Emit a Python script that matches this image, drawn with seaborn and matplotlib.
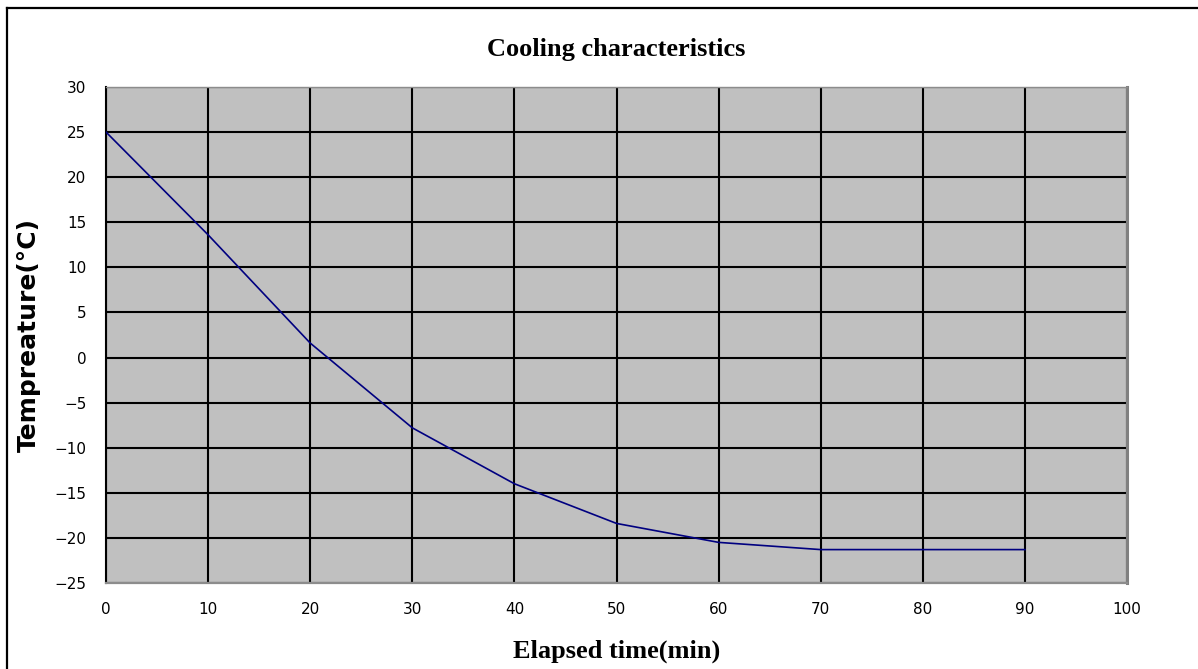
import matplotlib
matplotlib.use("Agg")
import matplotlib.pyplot as plt
import seaborn as sns
import pandas as pd
from matplotlib.lines import Line2D

# Data
elapsed_min = [0, 10, 20, 30, 40, 50, 60, 70, 80, 90]
temperature_c = [25.0, 13.6, 1.6, -7.8, -14.0, -18.4, -20.5, -21.3, -21.3, -21.3]
x_ticks = [0, 10, 20, 30, 40, 50, 60, 70, 80, 90, 100]
y_ticks = [-25, -20, -15, -10, -5, 0, 5, 10, 15, 20, 25, 30]

df = pd.DataFrame({"time": elapsed_min, "temp": temperature_c})

fig = plt.figure(figsize=(11.98, 6.69), dpi=100)
ax = fig.add_axes([0.0885, 0.1286, 0.8523, 0.7414])
ax.set_facecolor("#c0c0c0")

# Cooling curve
sns.lineplot(data=df, x="time", y="temp", ax=ax, color="#000080",
             linewidth=1.2, zorder=3)

ax.set_xlim(0, 100)
ax.set_ylim(-25, 30)
ax.set_xticks(x_ticks)
ax.set_yticks(y_ticks)
ax.tick_params(length=0, labelsize=11, pad=14)

# Black grid
ax.set_axisbelow(True)
ax.grid(True, color="black", linewidth=1.5)

# Spines
ax.spines["left"].set_color("black")
ax.spines["left"].set_linewidth(1.5)
ax.spines["top"].set_color("#8c8c8c")
ax.spines["top"].set_linewidth(1.0)
ax.spines["right"].set_color("#808080")
ax.spines["right"].set_linewidth(2.2)
ax.spines["bottom"].set_color("#8c8c8c")
ax.spines["bottom"].set_linewidth(1.6)

# Titles and labels
ax.set_title("Cooling characteristics", family="Liberation Serif",
             fontweight="bold", fontsize=19, pad=22)
ax.set_xlabel("Elapsed time(min)", family="Liberation Serif",
              fontweight="bold", fontsize=19, labelpad=16)
ax.set_ylabel("Tempreature(°C)", family="DejaVu Sans",
              fontweight="bold", fontsize=18, labelpad=10)

# Outer frame (left and top edges visible)
fig.add_artist(Line2D([7 / 1198, 7 / 1198], [0, 1 - 8 / 669],
                      transform=fig.transFigure, color="black", linewidth=1.6))
fig.add_artist(Line2D([7 / 1198, 1], [1 - 8 / 669, 1 - 8 / 669],
                      transform=fig.transFigure, color="black", linewidth=1.6))

fig.savefig("out.png", dpi=100)
